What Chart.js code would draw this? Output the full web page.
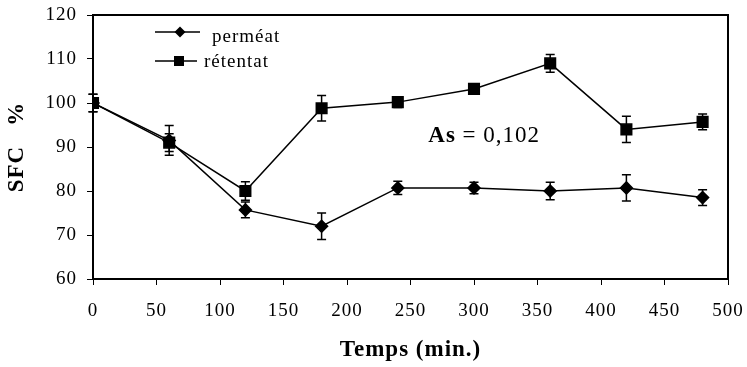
<!DOCTYPE html>
<html>
<head>
<meta charset="utf-8">
<script src="https://cdn.jsdelivr.net/npm/chart.js@4/dist/chart.umd.min.js"></script>
<style>
  body { margin: 0; background: #fff; }
  #wrap { width: 747px; height: 367px; }
</style>
</head>
<body>
<div id="wrap"><canvas id="sfcChart" width="747" height="367"></canvas></div>
<script>
// time points (min.)
const temps = [0, 60, 120, 180, 240, 300, 360, 420, 480];
// SFC % values
const permeat = [100, 91.5, 75.7, 72, 80.7, 80.7, 80, 80.7, 78.5];
const permeatErr = [2, 3.4, 1.8, 3, 1.5, 1.3, 2, 3, 1.8];
const retentat = [100, 91, 80, 98.8, 100.2, 103.2, 109, 94, 95.7];
const retentatErr = [2, 2, 2.1, 2.9, 1.2, 1, 2, 3, 1.8];
const xTicks = [0, 50, 100, 150, 200, 250, 300, 350, 400, 450, 500];
const yTicks = [60, 70, 80, 90, 100, 110, 120];

const serif = "'Liberation Serif', 'Times New Roman', serif";

// the original scan is a bit wide, so spread the letters a little
const spacing = {
    id: 'spacing',
    beforeDraw(chart) {
        chart.ctx.letterSpacing = '1px';
    }
};

// error bars, box border, legend and the "As" note
const extras = {
    id: 'extras',
    afterDatasetsDraw(chart) {
        const ctx = chart.ctx;
        const x = chart.scales.x;
        const y = chart.scales.y;
        const area = chart.chartArea;
        ctx.save();
        ctx.strokeStyle = '#000';
        ctx.lineWidth = 1.5;

        const bars = [[permeat, permeatErr], [retentat, retentatErr]];
        bars.forEach(([vals, errs]) => {
            vals.forEach((v, i) => {
                const px = x.getPixelForValue(temps[i]);
                const top = y.getPixelForValue(v + errs[i]);
                const bot = y.getPixelForValue(v - errs[i]);
                ctx.beginPath();
                ctx.moveTo(px, top); ctx.lineTo(px, bot);
                ctx.moveTo(px - 4.5, top); ctx.lineTo(px + 4.5, top);
                ctx.moveTo(px - 4.5, bot); ctx.lineTo(px + 4.5, bot);
                ctx.stroke();
            });
        });

        // box
        ctx.lineWidth = 2;
        ctx.strokeRect(area.left, area.top, area.right - area.left, area.bottom - area.top);

        // legend
        ctx.lineWidth = 1.5;
        ctx.fillStyle = '#000';
        ctx.font = '19px ' + serif;
        ctx.textBaseline = 'middle';
        const ly1 = 32, ly2 = 61;
        ctx.beginPath();
        ctx.moveTo(155, ly1); ctx.lineTo(200, ly1);
        ctx.moveTo(155, ly2); ctx.lineTo(197, ly2);
        ctx.stroke();
        ctx.beginPath();
        ctx.moveTo(180, ly1 - 5.5); ctx.lineTo(185.5, ly1); ctx.lineTo(180, ly1 + 5.5); ctx.lineTo(174.5, ly1);
        ctx.closePath(); ctx.fill();
        ctx.fillRect(174, ly2 - 5, 10, 10);
        ctx.fillText('perméat', 212, ly1 + 5);
        ctx.fillText('rétentat', 204, ly2 + 1);

        // annotation
        const ax = x.getPixelForValue(264);
        const ay = y.getPixelForValue(92.5);
        ctx.font = 'bold 23px ' + serif;
        ctx.fillText('As', ax, ay);
        const w = ctx.measureText('As ').width;
        ctx.font = '23px ' + serif;
        ctx.fillText('= 0,102', ax + w, ay);
        ctx.restore();
    }
};

new Chart(document.getElementById('sfcChart'), {
    type: 'line',
    data: {
        datasets: [{
            label: 'perméat',
            data: temps.map((t, i) => ({ x: t, y: permeat[i] })),
            borderColor: '#000',
            backgroundColor: '#000',
            borderWidth: 1.5,
            pointStyle: 'rectRot',
            pointRadius: 6,
            tension: 0
        }, {
            label: 'rétentat',
            data: temps.map((t, i) => ({ x: t, y: retentat[i] })),
            borderColor: '#000',
            backgroundColor: '#000',
            borderWidth: 1.5,
            pointStyle: 'rect',
            pointRadius: 7.5,
            tension: 0
        }]
    },
    options: {
        responsive: false,
        animation: false,
        layout: { padding: { top: 15, right: 19, left: 0, bottom: 0 } },
        plugins: {
            legend: { display: false },
            tooltip: { enabled: false }
        },
        scales: {
            x: {
                type: 'linear',
                min: 0,
                max: 500,
                afterBuildTicks: s => { s.ticks = xTicks.map(v => ({ value: v })); },
                afterFit: s => {
                    s.height = 88;
                    s.paddingLeft = 0; s.paddingRight = 0;
                },
                grid: { drawOnChartArea: false, color: '#000', tickLength: 6 },
                border: { color: '#000', width: 2 },
                ticks: { color: '#000', font: { family: serif, size: 19 }, padding: 15, maxRotation: 0 },
                title: {
                    display: true,
                    text: 'Temps (min.)',
                    color: '#000',
                    font: { family: serif, size: 23, weight: 'bold' },
                    padding: { top: 0, bottom: 3 }
                }
            },
            y: {
                min: 60,
                max: 120,
                afterBuildTicks: s => { s.ticks = yTicks.map(v => ({ value: v })); },
                afterFit: s => {
                    s.width = 93;
                    s.paddingTop = 0; s.paddingBottom = 0;
                },
                grid: { drawOnChartArea: false, color: '#000', tickLength: 6 },
                border: { color: '#000', width: 2 },
                ticks: { color: '#000', font: { family: serif, size: 19 }, padding: 10 },
                title: {
                    display: true,
                    text: 'SFC   %',
                    color: '#000',
                    font: { family: serif, size: 23, weight: 'bold' },
                    padding: { top: 3, bottom: 0 }
                }
            }
        }
    },
    plugins: [spacing, extras]
});
</script>
</body>
</html>
